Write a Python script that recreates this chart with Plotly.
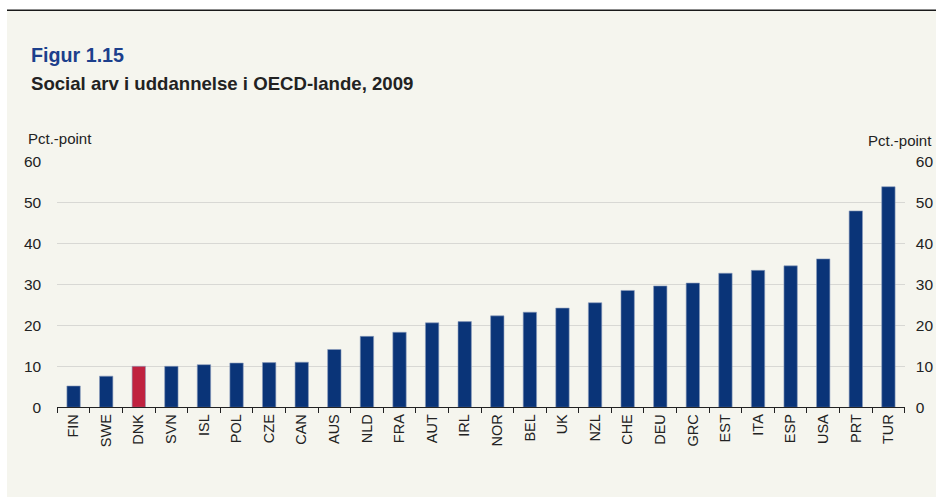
import plotly.graph_objects as go

# OECD countries, sorted by the strength of social inheritance in education
countries = ["FIN", "SWE", "DNK", "SVN", "ISL", "POL", "CZE", "CAN", "AUS", "NLD",
             "FRA", "AUT", "IRL", "NOR", "BEL", "UK", "NZL", "CHE", "DEU", "GRC",
             "EST", "ITA", "ESP", "USA", "PRT", "TUR"]
values = [5.2, 7.6, 10.0, 10.0, 10.4, 10.8, 10.9, 11.0, 14.1, 17.3,
          18.3, 20.6, 20.9, 22.3, 23.2, 24.2, 25.5, 28.5, 29.6, 30.3,
          32.7, 33.4, 34.5, 36.2, 47.9, 53.8]
y_ticks = [0, 10, 20, 30, 40, 50, 60]

NAVY = "#0a3478"
RED = "#c0223f"
bar_colors = [RED if c == "DNK" else NAVY for c in countries]

W, H = 936, 497
FONT = "Liberation Sans, Arial, sans-serif"


def px(x):
    return x / W


def py(y):
    return 1 - y / H


fig = go.Figure()
fig.add_trace(go.Bar(
    x=countries, y=values, marker=dict(color=bar_colors, line=dict(color="#8c9cbc", width=0.6)),
    width=0.41, hoverinfo="x+y", showlegend=False,
))
# mirror series on the right-hand axis (invisible)
fig.add_trace(go.Scatter(
    x=countries, y=values, yaxis="y2", mode="markers",
    marker=dict(opacity=0), hoverinfo="skip", showlegend=False,
))

fig.update_layout(
    width=W, height=H,
    margin=dict(l=0, r=0, t=0, b=0),
    paper_bgcolor="white",
    plot_bgcolor="rgba(0,0,0,0)",
    font=dict(family=FONT, color="#222222"),
    xaxis=dict(
        domain=[px(57.3), px(904.7)],
        type="category",
        range=[-0.5, len(countries) - 0.5],
        automargin=False,
        tickangle=-90,
        tickson="boundaries",
        ticks="outside", ticklen=5, tickcolor="#222222", tickwidth=1,
        showline=True, linecolor="#222222", linewidth=1.2,
        showgrid=False,
        tickfont=dict(size=14.5, color="#222222"),
        fixedrange=True,
    ),
    yaxis=dict(
        domain=[py(407.3), py(161.3)],
        range=[0, 60], tickvals=y_ticks,
        automargin=False,
        showgrid=True, gridcolor="#d8d8d4", gridwidth=1,
        zeroline=False, showline=False,
        ticks="outside", ticklen=12, tickcolor="rgba(0,0,0,0)",
        tickfont=dict(size=15.5, color="#222222"),
        fixedrange=True,
    ),
    yaxis2=dict(
        overlaying="y", side="right", anchor="x",
        range=[0, 60], tickvals=y_ticks,
        automargin=False,
        showgrid=False, zeroline=False, showline=False,
        ticks="outside", ticklen=7, tickcolor="rgba(0,0,0,0)",
        tickfont=dict(size=15.5, color="#222222"),
        fixedrange=True,
    ),
    shapes=[
        # beige panel
        dict(type="rect", xref="paper", yref="paper", layer="below",
             x0=px(7), x1=px(940), y0=py(500), y1=py(10.5),
             fillcolor="#f5f5ee", line=dict(width=0)),
        # top rule
        dict(type="line", xref="paper", yref="paper",
             x0=px(7), x1=px(940), y0=py(10.3), y1=py(10.3),
             line=dict(color="#1a1a1a", width=1.6)),
    ],
    annotations=[
        dict(text="<b>Figur 1.15</b>", xref="paper", yref="paper",
             x=px(29), y=py(54.5), xanchor="left", yanchor="middle",
             showarrow=False, font=dict(size=19.7, color="#1c3f8c", family=FONT)),
        dict(text="<b>Social arv i uddannelse i OECD-lande, 2009</b>", xref="paper", yref="paper",
             x=px(29), y=py(83.5), xanchor="left", yanchor="middle",
             showarrow=False, font=dict(size=18.6, color="#222222", family=FONT)),
        dict(text="Pct.-point", xref="paper", yref="paper",
             x=px(26), y=py(138.5), xanchor="left", yanchor="middle",
             showarrow=False, font=dict(size=15, color="#222222", family=FONT)),
        dict(text="Pct.-point", xref="paper", yref="paper",
             x=px(934), y=py(140.5), xanchor="right", yanchor="middle",
             showarrow=False, font=dict(size=15, color="#222222", family=FONT)),
    ],
)

fig.write_html("out.html")
